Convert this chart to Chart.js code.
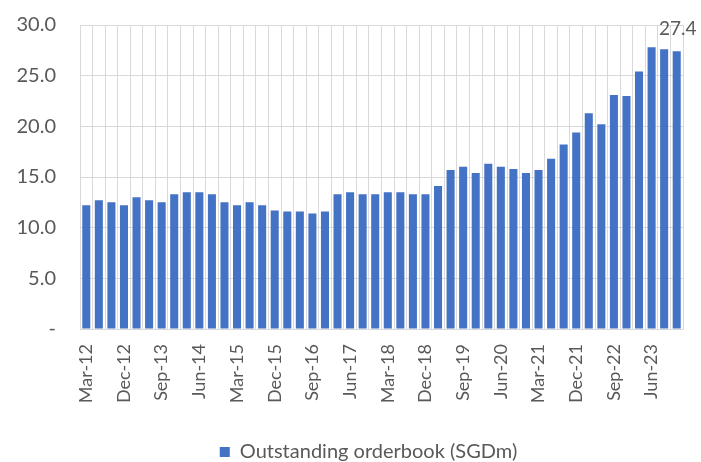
<!DOCTYPE html>
<html>
<head>
<meta charset="utf-8">
<script src="https://cdn.jsdelivr.net/npm/chart.js@4"></script>
<style>
    html, body { margin: 0; padding: 0; background: #fff; }
    #caixa { width: 701px; height: 462px; }
</style>
</head>
<body>
<div id="caixa"><canvas id="grafico-orderbook"></canvas></div>
<script>
const trimestres = [
    'Mar-12', 'Jun-12', 'Sep-12', 'Dec-12', 'Mar-13', 'Jun-13', 'Sep-13', 'Dec-13',
    'Mar-14', 'Jun-14', 'Sep-14', 'Dec-14', 'Mar-15', 'Jun-15', 'Sep-15', 'Dec-15',
    'Mar-16', 'Jun-16', 'Sep-16', 'Dec-16', 'Mar-17', 'Jun-17', 'Sep-17', 'Dec-17',
    'Mar-18', 'Jun-18', 'Sep-18', 'Dec-18', 'Mar-19', 'Jun-19', 'Sep-19', 'Dec-19',
    'Mar-20', 'Jun-20', 'Sep-20', 'Dec-20', 'Mar-21', 'Jun-21', 'Sep-21', 'Dec-21',
    'Mar-22', 'Jun-22', 'Sep-22', 'Dec-22', 'Mar-23', 'Jun-23', 'Sep-23', 'Dec-23'
];
const orderbookSgdm = [
    12.2, 12.7, 12.5, 12.2, 13.0, 12.7, 12.5, 13.3,
    13.5, 13.5, 13.3, 12.5, 12.2, 12.5, 12.2, 11.7,
    11.6, 11.6, 11.4, 11.6, 13.3, 13.5, 13.3, 13.3,
    13.5, 13.5, 13.3, 13.3, 14.1, 15.7, 16.0, 15.4,
    16.3, 16.0, 15.8, 15.4, 15.7, 16.8, 18.2, 19.4,
    21.3, 20.2, 23.1, 23.0, 25.4, 27.8, 27.6, 27.4
];
const ticksY = [0, 5, 10, 15, 20, 25, 30];
const nomeSerie = 'Outstanding orderbook (SGDm)';

const corBarra = '#4472C4';
const corTexto = '#595959';
const corGrade = '#D9D9D9';

// rótulo só na última barra
const pluginRotuloFinal = {
    id: 'rotuloFinal',
    afterDatasetsDraw(chart) {
        const meta = chart.getDatasetMeta(0);
        const ultimo = meta.data[meta.data.length - 1];
        const ctx = chart.ctx;
        ctx.save();
        ctx.font = '19px Lato';
        ctx.fillStyle = corTexto;
        ctx.textAlign = 'center';
        ctx.textBaseline = 'bottom';
        ctx.fillText(orderbookSgdm[orderbookSgdm.length - 1].toFixed(1), ultimo.x + 1, ultimo.y - 13);
        ctx.restore();
    }
};

// legenda um pouco deslocada, como no original
const pluginLegendaDeslocada = {
    id: 'legendaDeslocada',
    afterLayout(chart) {
        const leg = chart.legend;
        leg.left += 23;
        leg.right += 23;
        leg.top += 10;
        leg.bottom += 10;
    }
};

const ctxOrderbook = document.getElementById('grafico-orderbook').getContext('2d');
const graficoOrderbook = new Chart(ctxOrderbook, {
    type: 'bar',
    data: {
        labels: trimestres,
        datasets: [{
            label: nomeSerie,
            data: orderbookSgdm,
            backgroundColor: corBarra,
            borderWidth: 0,
            categoryPercentage: 0.64,
            barPercentage: 1
        }]
    },
    options: {
        responsive: true,
        maintainAspectRatio: false,
        animation: false,
        layout: { padding: { top: 25, right: 18, left: 8, bottom: 0 } },
        scales: {
            x: {
                grid: { color: corGrade, offset: true, drawTicks: false },
                border: { color: corGrade },
                afterFit: eixo => { eixo.height = 97; eixo.paddingLeft = 0; eixo.paddingRight = 0; },
                ticks: {
                    autoSkip: false,
                    maxRotation: 90,
                    minRotation: 90,
                    padding: 15,
                    color: corTexto,
                    font: { family: 'Lato', size: 18 },
                    callback: (valor, indice) => indice % 3 === 0 ? trimestres[indice] : ''
                }
            },
            y: {
                min: 0,
                max: 30,
                afterBuildTicks: eixo => { eixo.ticks = ticksY.map(v => ({ value: v })); },
                afterFit: eixo => { eixo.width = 72; eixo.paddingTop = 0; eixo.paddingBottom = 0; },
                grid: { color: corGrade, drawTicks: false },
                border: { display: false },
                ticks: {
                    padding: 24,
                    color: corTexto,
                    font: { family: 'Lato', size: 20 },
                    callback: valor => valor === 0 ? '-' : valor.toFixed(1)
                }
            }
        },
        plugins: {
            legend: {
                position: 'bottom',
                labels: {
                    boxWidth: 10,
                    boxHeight: 10,
                    padding: 6,
                    color: corTexto,
                    font: { family: 'Lato', size: 20 }
                }
            },
            tooltip: { enabled: false }
        }
    },
    plugins: [pluginRotuloFinal, pluginLegendaDeslocada]
});
</script>
</body>
</html>
